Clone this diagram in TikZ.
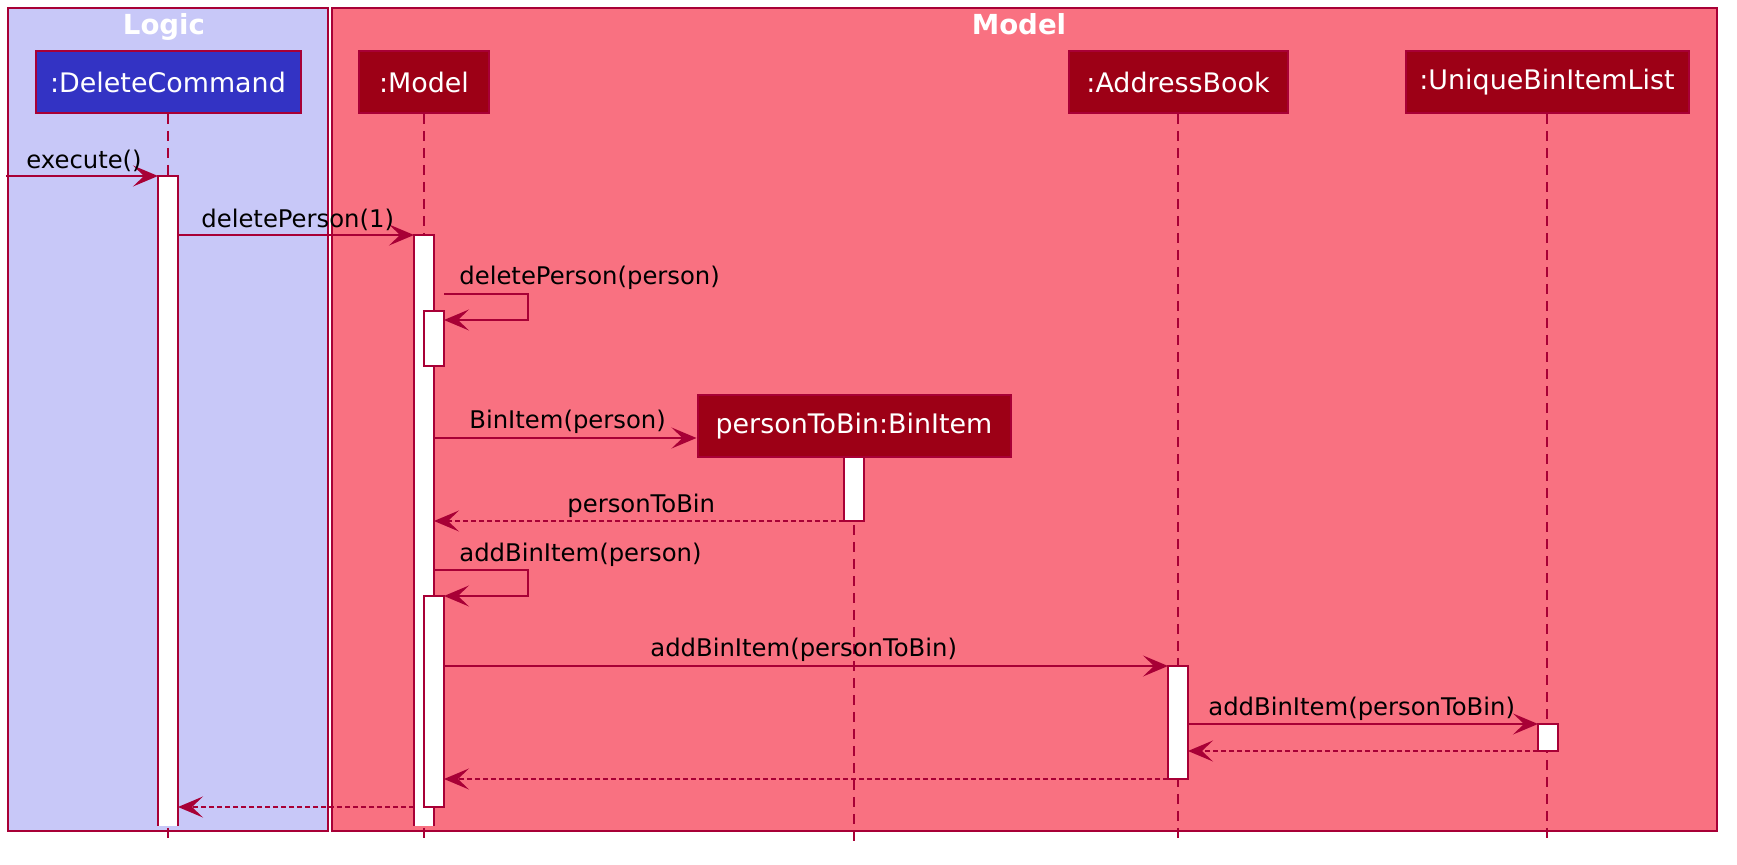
\documentclass[tikz,border=0pt]{standalone}
\usepackage{fontspec}
\setmainfont{DejaVu Sans}
\usetikzlibrary{arrows.meta,calc}
\definecolor{logicbg}{HTML}{C8C8F8}
\definecolor{modelbg}{HTML}{F97181}
\definecolor{wine}{HTML}{A80036}
\definecolor{cmdfill}{HTML}{3333C4}
\definecolor{partfill}{HTML}{9D0016}

\begin{document}
\begin{tikzpicture}[x=.5pt,y=-.5pt,every node/.style={text=black},
  part/.style={draw=wine,line width=1pt,minimum height=31pt,inner sep=0pt,text=white,font=\fontsize{13.45}{16}\selectfont},
  act/.style={draw=wine,fill=white,line width=.9pt,minimum width=10pt,inner sep=0pt,outer sep=0pt},
  actopen/.style={act,draw=none},
  life/.style={draw=wine,line width=.75pt,dash pattern=on 5pt off 3.5pt},
  msg/.style={draw=wine,line width=.75pt,-{Stealth[length=12.5pt,width=10.5pt,inset=5.5pt]}},
  ret/.style={msg,dash pattern=on 2.5pt off 1.5pt},
  lbl/.style={anchor=base west,inner sep=0pt,font=\fontsize{12.15}{14}\selectfont},
  grp/.style={anchor=base,text=white,font=\fontsize{13.8}{16}\selectfont\bfseries}]
\useasboundingbox (0,0) rectangle (1737,865);
% boxes round the two layers
\draw[wine,fill=logicbg,line width=.75pt] (8,8) rectangle (328,831);
\draw[wine,fill=modelbg,line width=.75pt] (332,8) rectangle (1717,831);
\node[grp] (tLogic) at (164,35) {Logic};
\node[grp] (tModel) at (1019,35) {Model};
% participants
\node[part,fill=cmdfill,minimum width=132.5pt] (dc) at (168,82) {:DeleteCommand};
\node[part,fill=partfill,minimum width=65pt] (mdl) at (424,82) {:Model};
\node[part,fill=partfill,minimum width=109.5pt] (ab) at (1178,82) {:AddressBook};
\node[part,fill=partfill,minimum width=141.5pt] (ul) at (1547,82) {:UniqueBinItemList};
% lifelines, down past the boxes
\coordinate (lifeEnd) at (0,843);
\foreach \p in {dc,mdl,ab,ul}{\draw[life] (\p.south) -- (\p.south |- lifeEnd);}
\draw[life] (854,457) -- (854,843);
\node[part,fill=partfill,minimum width=156.5pt] (btb) at (854,426) {personToBin:BinItem};
% activations
\node[actopen,minimum height=325pt] (dcAct) at (168,501) {};
\draw[wine,line width=.9pt] (dcAct.south west) |- (dcAct.north east) -- (dcAct.south east);
\node[actopen,minimum height=295.5pt] (mAct) at (424,530.5) {};
\draw[wine,line width=.9pt] (mAct.south west) |- (mAct.north east) -- (mAct.south east);
\node[act,minimum height=27.5pt] (mSub1) at (434,338.5) {};
\node[act,minimum height=32pt] (bAct) at (854,489) {};
\node[act,minimum height=105.5pt] (mSub2) at (434,701.5) {};
\node[act,minimum height=56.5pt] (abAct) at (1178,722.5) {};
\node[act,minimum height=13.5pt] (ulAct) at (1548,737.5) {};
% messages
\coordinate (entry) at (6,176);
\draw[msg] (entry) -- (dcAct.north west);
\draw[msg] (dcAct.east |- mAct.north) -- (mAct.north west);
\draw[msg] ($(mSub1.north east)+(0,-17)$) -- ++(84,0) |- ($(mSub1.north east)+(0,9)$);
\draw[msg] (mAct.east |- 0,438) -- (btb.west |- 0,438);
\draw[ret] (bAct.south west) -- (mAct.east |- bAct.south);
\draw[msg] ($(mSub2.north east)+(-10,-26)$) -- ++(94,0) |- (mSub2.north east);
\draw[msg] (mSub2.east |- abAct.north) -- (abAct.north west);
\draw[msg] (abAct.east |- ulAct.north) -- (ulAct.north west);
\draw[ret] (ulAct.south west) -- (abAct.east |- ulAct.south);
\draw[ret] (abAct.south west) -- (mSub2.east |- abAct.south);
\draw[ret] (mAct.west |- mSub2.south) -- (dcAct.east |- mSub2.south);
% labels
\node[lbl] (lExec) at (26,169) {execute()};
\node[lbl] (lDel1) at (201,228) {deletePerson(1)};
\node[lbl] (lDelP) at (459,285) {deletePerson(person)};
\node[lbl] (lNew) at (469,429) {BinItem(person)};
\node[lbl] (lRet) at (567,513) {personToBin};
\node[lbl] (lAddP) at (459,562) {addBinItem(person)};
\node[lbl] (lAdd1) at (650,657) {addBinItem(personToBin)};
\node[lbl] (lAdd2) at (1208,716) {addBinItem(personToBin)};
\end{tikzpicture}
\end{document}
